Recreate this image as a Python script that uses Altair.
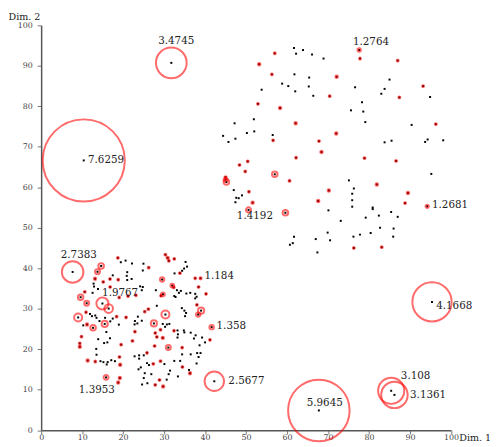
import altair as alt
import pandas as pd

# plain points (no outlier circle)
dot_x = [61.7, 62.2, 63.9, 66.1, 68.9, 61.8, 65.4, 85.0, 58.8, 60.3, 65.3, 76.6, 83.8, 53.8, 62.0, 66.4,
         83.0, 94.9, 78.3, 75.6, 78.6, 51.9, 79.1, 90.4, 50.2, 52.0, 56.5, 83.8, 85.5, 93.7, 94.3, 98.1,
         75.1, 95.2, 76.3, 75.9, 75.9, 70.1, 75.9, 80.9, 80.9, 85.4, 82.4, 87.0, 79.2, 73.1, 61.7, 60.7,
         61.4, 67.0, 69.9, 70.5, 67.4, 76.2, 77.8, 80.4, 82.7, 86.0, 85.9, 47.2, 44.4, 47.4, 45.7, 47.0,
         47.6, 48.2, 49.0, 47.4,
         19.44, 20.60, 22.16, 24.96, 24.80, 21.00, 20.88, 17.47, 22.08, 21.00, 12.79, 12.91, 13.87, 12.55,
         24.15, 24.80, 24.56, 11.91, 12.39, 13.20, 13.51, 15.60, 14.23, 10.27, 17.47, 16.87, 18.96, 24.56,
         23.60, 22.88, 23.48, 22.80, 35.24, 34.88, 35.60, 32.55, 34.40, 33.13, 33.61, 34.09, 35.43, 36.39,
         37.59, 37.59, 37.93, 32.48, 32.79, 27.99, 28.23, 34.33, 34.95, 35.36, 35.12, 29.67, 30.24, 30.68,
         31.28, 13.92, 15.91, 16.80, 15.36, 16.15, 13.44, 13.51, 14.47, 15.19, 16.23, 15.99, 17.11, 18.00,
         22.80, 23.91, 23.91, 25.04, 24.32, 23.76, 25.28, 25.04, 24.63, 33.27, 33.37, 33.27, 34.81, 34.95,
         36.49, 37.69, 37.28, 39.27, 39.99, 38.65, 34.40, 36.49, 38.07, 38.89, 38.41, 32.48, 33.92, 37.93,
         25.83, 26.31, 30.08, 36.08, 31.45, 31.11, 26.88, 33.37, 30.63, 25.92]
dot_y = [94.4, 93.0, 93.9, 92.8, 91.8, 87.9, 87.1, 86.6, 85.6, 85.0, 84.9, 84.7, 84.3, 84.1, 83.7, 82.6,
         83.1, 82.3, 81.0, 79.0, 78.7, 76.8, 76.1, 75.4, 73.4, 73.8, 72.9, 71.1, 71.5, 71.2, 71.8, 71.6,
         61.7, 63.3, 59.7, 58.4, 56.8, 54.3, 55.2, 55.0, 54.6, 53.9, 53.0, 52.7, 52.5, 51.7, 47.8, 45.8,
         46.2, 47.2, 48.8, 46.9, 43.9, 47.8, 48.3, 48.7, 50.0, 49.8, 47.8, 75.8, 72.7, 72.0, 71.2, 59.3,
         57.4, 57.3, 58.0, 56.3,
         41.48, 41.89, 41.17, 41.12, 39.44, 39.03, 38.12, 38.24, 37.35, 37.09, 36.20, 35.48, 34.88, 33.92,
         35.53, 35.36, 34.57, 28.71, 28.16, 28.32, 27.75, 27.75, 26.96, 25.88, 27.56, 26.88, 26.07, 27.03,
         28.04, 26.96, 26.36, 26.12, 41.55, 39.92, 40.40, 38.72, 39.37, 34.57, 33.92, 34.40, 33.75, 33.92,
         33.68, 32.55, 32.96, 33.13, 32.89, 34.57, 30.72, 30.15, 29.52, 28.95, 28.16, 26.24, 25.52, 26.12,
         26.24, 22.47, 24.24, 22.71, 21.51, 21.68, 20.07, 18.63, 17.04, 16.80, 16.80, 16.23, 17.28, 17.04,
         18.24, 18.48, 17.67, 18.48, 15.51, 15.03, 14.07, 12.87, 11.28, 24.63, 23.67, 22.88, 24.63, 24.15,
         24.08, 23.43, 22.64, 22.88, 21.68, 20.96, 18.72, 18.72, 19.04, 19.04, 18.07, 17.11, 17.11, 16.47,
         16.56, 16.08, 16.32, 14.88, 14.71, 13.83, 13.83, 13.27, 12.48, 11.59]

# points with an outlier score > 1 (circled)
out_x = [77.6, 77.8, 87.0, 57.0, 53.2, 56.3, 72.1, 93.2, 70.4, 87.4, 52.9, 58.3, 62.1, 96.3, 72.0, 56.6,
         67.8, 68.4, 50.4, 62.2, 78.9, 86.6, 49.8, 57.0, 60.6, 50.7, 70.2, 81.9, 89.5, 51.6, 67.6, 88.8,
         94.2, 50.6, 59.6, 76.3, 83.1, 48.4, 45.0, 45.2, 45.0,
         7.68, 14.64, 13.75, 18.72, 16.80, 18.80, 13.15, 15.15, 16.83, 10.63, 23.12, 21.20, 19.04, 9.63,
         11.11, 14.95, 16.47, 18.41, 20.72, 10.95, 9.03, 11.19, 12.67, 15.51,
         30.32, 30.87, 31.16, 32.48, 33.85, 26.24, 37.59, 38.89, 29.52, 32.00, 32.36, 38.41, 40.23, 29.72,
         29.24, 38.00, 39.03, 38.31, 30.32, 26.16, 25.28, 41.60, 27.51,
         9.84, 9.43, 9.43, 19.51, 22.88, 22.28, 11.35, 13.20, 19.11, 19.28, 15.84, 19.20, 18.80,
         27.84, 28.23, 29.67, 29.12, 32.41, 41.19, 27.68, 31.04, 34.40, 25.83, 29.12, 27.36, 34.47, 36.32,
         28.88, 27.84, 29.76, 42.25,
         31.76, 10.39, 95.37, 67.76, 85.41, 86.20]
out_y = [93.9, 91.8, 91.3, 93.1, 90.4, 87.9, 87.3, 85.0, 82.5, 82.2, 80.6, 79.6, 75.8, 75.6, 73.3, 71.6,
         71.4, 68.7, 66.4, 67.3, 67.2, 66.5, 63.9, 63.2, 61.6, 58.9, 59.2, 60.7, 58.6, 56.2, 56.6, 56.1,
         55.3, 54.4, 53.7, 45.0, 45.2, 65.5, 62.5, 61.3, 61.9,
         39.08, 40.57, 39.13, 42.56, 37.33, 37.16, 37.40, 36.61, 35.36, 34.16, 33.32, 33.13, 32.77, 32.84,
         31.35, 31.28, 30.03, 28.06, 27.87, 29.12, 27.84, 26.12, 25.28, 26.24,
         43.35, 42.56, 41.84, 42.32, 38.79, 40.16, 37.52, 37.52, 37.21, 35.72, 35.29, 35.36, 33.68, 33.56,
         33.20, 30.96, 29.52, 28.56, 28.56, 29.91, 29.28, 25.44, 26.36,
         23.12, 21.44, 20.60, 21.12, 24.32, 22.04, 17.19, 16.95, 18.07, 16.15, 13.03, 12.91, 11.76,
         24.00, 23.04, 22.80, 24.80, 24.56, 22.32, 20.79, 20.40, 20.40, 19.11, 17.04, 16.39, 15.60, 14.07,
         12.39, 11.19, 10.80, 12.07,
         90.73, 66.63, 31.68, 4.87, 9.72, 8.71]
out_lof = [1.2764, 1.15, 1.15, 1.15, 1.2, 1.15, 1.2, 1.15, 1.15, 1.15, 1.15, 1.2, 1.2, 1.15, 1.2, 1.15,
           1.15, 1.2, 1.15, 1.15, 1.15, 1.15, 1.15, 1.45, 1.15, 1.15, 1.2, 1.2, 1.2, 1.2, 1.2, 1.15,
           1.2681, 1.4192, 1.45, 1.15, 1.15, 1.15, 1.15, 1.45, 1.3,
           2.7383, 1.45, 1.4, 1.15, 1.15, 1.15, 1.2, 1.15, 1.15, 1.15, 1.15, 1.15, 1.15, 1.45,
           1.4, 1.9767, 1.7, 1.15, 1.15, 1.15, 1.65, 1.2, 1.45, 1.5,
           1.15, 1.2, 1.15, 1.15, 1.15, 1.15, 1.15, 1.184, 1.35, 1.3, 1.15, 1.15, 1.15, 1.3,
           1.15, 1.15, 1.5, 1.35, 1.65, 1.15, 1.15, 1.358, 1.5,
           1.15, 1.15, 1.2, 1.15, 1.15, 1.15, 1.2, 1.15, 1.15, 1.2, 1.3953, 1.2, 1.2,
           1.15, 1.15, 1.2, 1.15, 1.15, 1.15, 1.15, 1.4, 1.15, 1.15, 1.15, 1.15, 1.15, 1.2,
           1.15, 1.15, 1.2, 2.5677,
           3.4745, 7.6259, 4.1668, 5.9645, 3.108, 3.1361]

# labels
lab_text = ["3.4745", "7.6259", "4.1668", "5.9645", "3.108", "3.1361", "2.5677", "1.3953",
            "1.9767", "2.7383", "1.184", "1.358", "1.2764", "1.2681", "1.4192"]
lab_x = [32.96, 11.43, 96.40, 69.20, 87.76, 90.01, 45.68, 13.59, 19.27, 9.19, 39.85, 42.80, 80.48, 95.37, 52.16]
lab_y = [96.16, 66.63, 30.72, 6.79, 13.44, 8.79, 12.15, 9.99, 33.92, 43.21, 38.17, 25.76, 95.78, 55.69, 52.81]
lab_anchor = ["center", "left", "left", "center", "left", "left", "left", "center",
              "center", "center", "left", "left", "center", "left", "center"]

pts = pd.DataFrame({"x": dot_x + out_x, "y": dot_y + out_y})
outs = pd.DataFrame({"x": out_x, "y": out_y, "lof": out_lof})
labels = pd.DataFrame({"t": lab_text, "x": lab_x, "y": lab_y, "a": lab_anchor})

FONT = "DejaVu Serif"
xs = alt.Scale(domain=[0, 100], nice=False, zero=False)
ys = alt.Scale(domain=[0, 100], nice=False, zero=False)

x_axis = alt.Axis(values=list(range(0, 101, 10)), grid=False, domainColor="#555", domainWidth=1.5,
                  tickColor="#777", tickSize=4, labelFont=FONT, labelFontSize=8, labelColor="#444",
                  labelPadding=0, labelFlush=False, title="Dim. 1", titleFont=FONT, titleFontSize=9.7,
                  titleFontWeight="normal", titleColor="#222", titleX=424.5, titleY=7.5,
                  titleAlign="left", titleBaseline="middle", titleAnchor="start")
y_axis = alt.Axis(values=list(range(0, 101, 10)), grid=False, domainColor="#555", domainWidth=1.5,
                  tickColor="#777", tickSize=4, labelFont=FONT, labelFontSize=8, labelColor="#444",
                  labelPadding=5, labelFlush=False, title="Dim. 2", titleFont=FONT, titleFontSize=9.7,
                  titleFontWeight="normal", titleColor="#222", titleAngle=0, titleX=-33.7, titleY=-9,
                  titleAlign="left", titleBaseline="middle", titleAnchor="start")

dots = alt.Chart(pts).mark_square(size=4, color="black", opacity=1).encode(
    x=alt.X("x:Q", scale=xs, axis=x_axis),
    y=alt.Y("y:Q", scale=ys, axis=y_axis),
)

rings = alt.Chart(outs).transform_calculate(r="datum.lof - 1").mark_point(
    shape="circle", filled=False, color="#ff0000", opacity=0.58, strokeWidth=2
).encode(
    x=alt.X("x:Q", scale=xs),
    y=alt.Y("y:Q", scale=ys),
    size=alt.Size("r:Q", scale=alt.Scale(type="pow", exponent=2, domain=[0, 7], range=[0, 7779.24]),
                  legend=None),
)

lab_left = alt.Chart(labels).transform_filter("datum.a == 'left'").mark_text(
    font=FONT, fontSize=10.5, color="#222", align="left", baseline="middle"
).encode(x=alt.X("x:Q", scale=xs), y=alt.Y("y:Q", scale=ys), text="t:N")

lab_center = alt.Chart(labels).transform_filter("datum.a == 'center'").mark_text(
    font=FONT, fontSize=10.5, color="#222", align="center", baseline="middle"
).encode(x=alt.X("x:Q", scale=xs), y=alt.Y("y:Q", scale=ys), text="t:N")

chart = alt.layer(dots, rings, lab_left, lab_center).properties(
    width=416.6, height=411.5,
    autosize=alt.AutoSizeParams(type="none"),
    padding={"left": 33.7, "top": 14, "right": 41.7, "bottom": 13.5},
    background="white",
).configure_view(stroke=None)

chart.save("out.html", embed_options={"renderer": "svg", "actions": False})
